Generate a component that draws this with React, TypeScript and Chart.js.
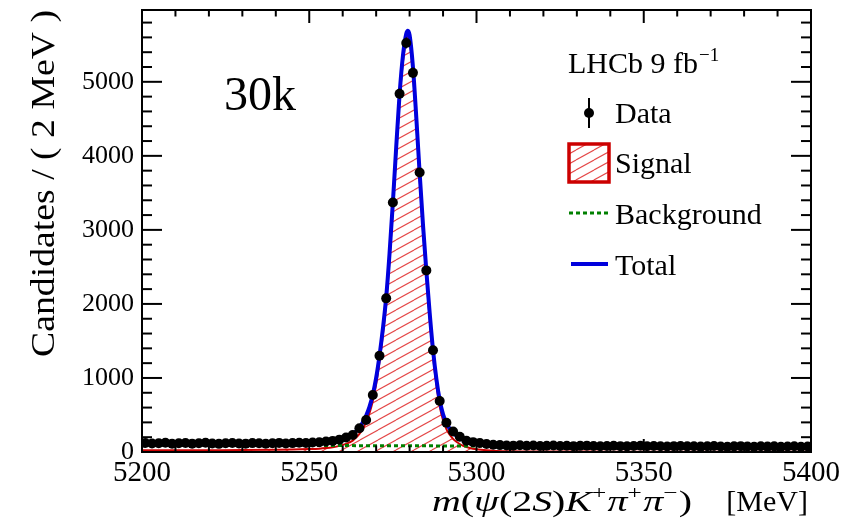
import { useEffect, useRef } from "react";
import { Chart, registerables } from "chart.js";

Chart.register(...registerables);

const SERIF = '"Liberation Serif", "Times New Roman", serif';

// Histogram of candidates: 2 MeV bins from 5200 to 5400 MeV
const histLow = 5200;
const binWidth = 2;
const candidates = [
  122, 114, 119, 126, 111, 117, 121, 113, 118, 124,
  115, 110, 119, 122, 116, 113, 120, 117, 111, 118,
  123, 116, 120, 125, 121,
  128, 131, 142, 150, 167, 196, 230, 320, 432, 770,
  1300, 2075, 3370, 4838, 5525, 5121, 3774, 2453, 1375, 689,
  395, 278, 205, 152, 133,
  121, 108, 97, 93, 88, 86, 90, 84, 87, 82,
  85, 88, 81, 84, 79, 83, 86, 80, 78, 82,
  84, 79, 76, 81, 85, 78, 80, 77, 74, 79,
  81, 76, 78, 73, 77, 80, 75, 72, 76, 79,
  74, 71, 77, 73, 76, 70, 74, 78, 72, 75,
];

// Fit model sampled along the mass axis
const fitMass = [
  5200, 5210, 5220, 5230, 5240, 5245, 5250, 5253, 5255, 5257,
  5259, 5261, 5262, 5263, 5264, 5265, 5266, 5267, 5268, 5269,
  5270, 5271, 5272, 5273, 5274, 5275, 5276, 5277, 5278, 5279,
  5279.5, 5280, 5281, 5282, 5283, 5284, 5285, 5286, 5287, 5288,
  5289, 5290, 5291, 5292, 5293, 5294, 5295, 5296, 5297, 5298,
  5300, 5303, 5306, 5310, 5320, 5340, 5360, 5380, 5400,
];
const totalFit = [
  117, 116, 116, 117, 119, 122, 127, 133, 140, 152,
  170, 196, 215, 240, 280, 330, 400, 490, 610, 775,
  1000, 1300, 1660, 2090, 2680, 3370, 4120, 4830, 5350, 5650,
  5690, 5630, 5200, 4520, 3770, 3070, 2450, 1880, 1380, 990,
  700, 510, 390, 315, 260, 220, 190, 166, 148, 135,
  118, 103, 94, 89, 84, 80, 77, 74, 71,
];
const signalFit = [
  22, 22, 24, 26, 30, 33, 39, 45, 53, 65,
  83, 110, 129, 154, 194, 244, 314, 404, 525, 690,
  915, 1215, 1575, 2005, 2595, 3285, 4036, 4746, 5266, 5566,
  5606, 5546, 5116, 4436, 3687, 2987, 2367, 1797, 1297, 907,
  617, 428, 308, 233, 178, 138, 108, 84, 67, 54,
  37, 22, 14, 9, 6, 5, 4, 4, 4,
];
const backgroundMass = [5200, 5400];
const backgroundFit = [95, 67];

const xTicks = [5200, 5250, 5300, 5350, 5400];
const yTicks = [0, 1000, 2000, 3000, 4000, 5000];

const BLUE = "#0000dd";
const RED = "#cc0000";
const HATCH = "#e44848";
const GREEN = "#008000";

function makeHatch(): CanvasPattern | string {
  const c = document.createElement("canvas");
  const w = 18;
  const h = 10;
  c.width = w;
  c.height = h;
  const g = c.getContext("2d");
  if (!g) return "rgba(220,60,60,0.3)";
  g.strokeStyle = HATCH;
  g.lineWidth = 1.1;
  for (let k = -1; k <= 1; k++) {
    g.beginPath();
    g.moveTo(0, h + k * h);
    g.lineTo(w, k * h);
    g.stroke();
  }
  return g.createPattern(c, "repeat") || "rgba(220,60,60,0.3)";
}

function line(ctx: CanvasRenderingContext2D, x1: number, y1: number, x2: number, y2: number) {
  ctx.beginPath();
  ctx.moveTo(x1, y1);
  ctx.lineTo(x2, y2);
  ctx.stroke();
}

type Piece = { t: string; it?: boolean; sup?: boolean };
const xTitleMath: Piece[] = [
  { t: "m", it: true },
  { t: "(" },
  { t: "ψ", it: true },
  { t: "(2" },
  { t: "S", it: true },
  { t: ")" },
  { t: "K", it: true },
  { t: "+", sup: true },
  { t: "π", it: true },
  { t: "+", sup: true },
  { t: "π", it: true },
  { t: "−", sup: true },
  { t: ")" },
];

export default function App() {
  const ref = useRef<HTMLCanvasElement | null>(null);

  useEffect(() => {
    const canvas = ref.current;
    if (!canvas) return;
    const hatch = makeHatch();

    const decorations = {
      id: "decorations",
      afterDatasetsDraw(chart: any) {
        const { ctx, scales } = chart;
        const x = scales.x;
        const y = scales.y;
        ctx.save();
        ctx.strokeStyle = "#000";
        ctx.lineWidth = 1.5;
        candidates.forEach((c, i) => {
          const m = histLow + binWidth * (i + 0.5);
          const e = Math.sqrt(c);
          const px = x.getPixelForValue(m);
          line(ctx, px, y.getPixelForValue(c - e), px, y.getPixelForValue(c + e));
        });
        ctx.restore();
      },
      afterDraw(chart: any) {
        const { ctx, chartArea, scales } = chart;
        const { left, right, top, bottom } = chartArea;
        const x = scales.x;
        const y = scales.y;
        ctx.save();
        // frame
        ctx.strokeStyle = "#000";
        ctx.lineWidth = 2;
        ctx.strokeRect(left, top, right - left, bottom - top);
        // inner ticks on all four sides
        for (let v = x.min; v <= x.max + 0.01; v += 10) {
          const px = x.getPixelForValue(v);
          const len = Math.round(v) % 50 === 0 ? 13 : 6.5;
          line(ctx, px, bottom, px, bottom - len);
          line(ctx, px, top, px, top + len);
        }
        for (let v = 0; v <= y.max; v += 200) {
          const py = y.getPixelForValue(v);
          const len = v % 1000 === 0 ? 20 : 10;
          line(ctx, left, py, left + len, py);
          line(ctx, right, py, right - len, py);
        }

        ctx.fillStyle = "#000";
        ctx.textBaseline = "alphabetic";
        ctx.textAlign = "left";

        // y-axis title
        ctx.save();
        ctx.font = `33px ${SERIF}`;
        const yTitle = "Candidates / ( 2 MeV )";
        const yw = ctx.measureText(yTitle).width;
        const yLen = 357 - top;
        ctx.translate(54, 357);
        ctx.rotate(-Math.PI / 2);
        ctx.scale(yLen / yw, 1);
        ctx.fillText(yTitle, 0, 0);
        ctx.restore();

        // x-axis title
        const fontFor = (p: Piece) =>
          `${p.it ? "italic " : ""}${p.sup ? 19 : 30}px ${SERIF}`;
        let mw = 0;
        xTitleMath.forEach((p) => {
          ctx.font = fontFor(p);
          mw += ctx.measureText(p.t).width + (p.sup ? 1 : 0);
        });
        const base = 511;
        ctx.save();
        ctx.translate(432, base);
        ctx.scale(260 / mw, 1);
        let cx = 0;
        xTitleMath.forEach((p) => {
          ctx.font = fontFor(p);
          ctx.fillText(p.t, cx, p.sup ? -12 : 0);
          cx += ctx.measureText(p.t).width + (p.sup ? 1 : 0);
        });
        ctx.restore();
        ctx.font = `30px ${SERIF}`;
        ctx.textAlign = "right";
        ctx.fillText("[MeV]", 808, base);
        ctx.textAlign = "left";

        // sample size label
        ctx.font = `48px ${SERIF}`;
        ctx.fillText("30k", 224, 110);

        // legend
        ctx.font = `30px ${SERIF}`;
        const lh = "LHCb 9 fb";
        ctx.fillText(lh, 568, 73);
        const lw = ctx.measureText(lh).width;
        ctx.font = `19px ${SERIF}`;
        ctx.fillText("−1", 568 + lw + 1, 61);

        ctx.font = `30px ${SERIF}`;
        // Data
        ctx.lineWidth = 2;
        line(ctx, 589, 98, 589, 128);
        ctx.beginPath();
        ctx.arc(589, 113, 5, 0, Math.PI * 2);
        ctx.fill();
        ctx.fillText("Data", 615, 123);
        // Signal
        ctx.fillStyle = hatch as any;
        ctx.fillRect(569, 144, 40, 38);
        ctx.strokeStyle = RED;
        ctx.lineWidth = 3.5;
        ctx.strokeRect(569, 144, 40, 38);
        ctx.fillStyle = "#000";
        ctx.fillText("Signal", 615, 173);
        // Background
        ctx.strokeStyle = GREEN;
        ctx.lineWidth = 3;
        ctx.setLineDash([4, 3]);
        line(ctx, 569, 213, 608, 213);
        ctx.setLineDash([]);
        ctx.fillText("Background", 615, 224);
        // Total
        ctx.strokeStyle = BLUE;
        ctx.lineWidth = 4;
        line(ctx, 571, 264, 608, 264);
        ctx.fillText("Total", 615, 275);

        ctx.restore();
      },
    };

    const chart = new Chart(canvas, {
      type: "line",
      data: {
        datasets: [
          {
            label: "Data",
            data: candidates.map((c, i) => ({ x: histLow + binWidth * (i + 0.5), y: c })),
            showLine: false,
            pointRadius: 5,
            pointBackgroundColor: "#000",
            pointBorderWidth: 0,
            order: 0,
          },
          {
            label: "Total",
            data: fitMass.map((m, i) => ({ x: m, y: totalFit[i] })),
            borderColor: BLUE,
            borderWidth: 4,
            pointRadius: 0,
            cubicInterpolationMode: "monotone",
            fill: false,
            order: 1,
          },
          {
            label: "Background",
            data: backgroundMass.map((m, i) => ({ x: m, y: backgroundFit[i] })),
            borderColor: GREEN,
            borderWidth: 3,
            borderDash: [4, 3],
            pointRadius: 0,
            fill: false,
            order: 2,
          },
          {
            label: "Signal",
            data: fitMass.map((m, i) => ({ x: m, y: signalFit[i] })),
            borderColor: RED,
            borderWidth: 2,
            backgroundColor: hatch as any,
            pointRadius: 0,
            cubicInterpolationMode: "monotone",
            fill: "origin",
            order: 3,
          },
        ],
      },
      options: {
        responsive: false,
        animation: false,
        devicePixelRatio: 1,
        layout: { padding: { top: 10, right: 55, left: 0, bottom: 0 } },
        plugins: { legend: { display: false }, tooltip: { enabled: false } },
        scales: {
          x: {
            type: "linear",
            min: 5200,
            max: 5400,
            grid: { display: false, drawTicks: false },
            border: { display: false },
            afterBuildTicks: (s: any) => {
              s.ticks = xTicks.map((v) => ({ value: v }));
            },
            afterFit: (s: any) => {
              s.height = 78;
            },
            ticks: {
              font: { family: SERIF, size: 29 },
              color: "#000",
              padding: 4,
              maxRotation: 0,
              autoSkip: false,
              callback: (v: any) => String(v),
            },
          },
          y: {
            type: "linear",
            min: 0,
            max: 5970,
            grid: { display: false, drawTicks: false },
            border: { display: false },
            afterBuildTicks: (s: any) => {
              s.ticks = yTicks.map((v) => ({ value: v }));
            },
            afterFit: (s: any) => {
              s.width = 142;
              s.paddingTop = 0;
              s.paddingBottom = 0;
            },
            ticks: {
              font: { family: SERIF, size: 26 },
              color: "#000",
              padding: 8,
              autoSkip: false,
              callback: (v: any) => String(v),
            },
          },
        },
      },
      plugins: [decorations],
    } as any);

    return () => chart.destroy();
  }, []);

  return (
    <div style={{ position: "fixed", left: 0, top: 0, width: 866, height: 530, background: "#fff" }}>
      <canvas ref={ref} width={866} height={530} />
    </div>
  );
}
